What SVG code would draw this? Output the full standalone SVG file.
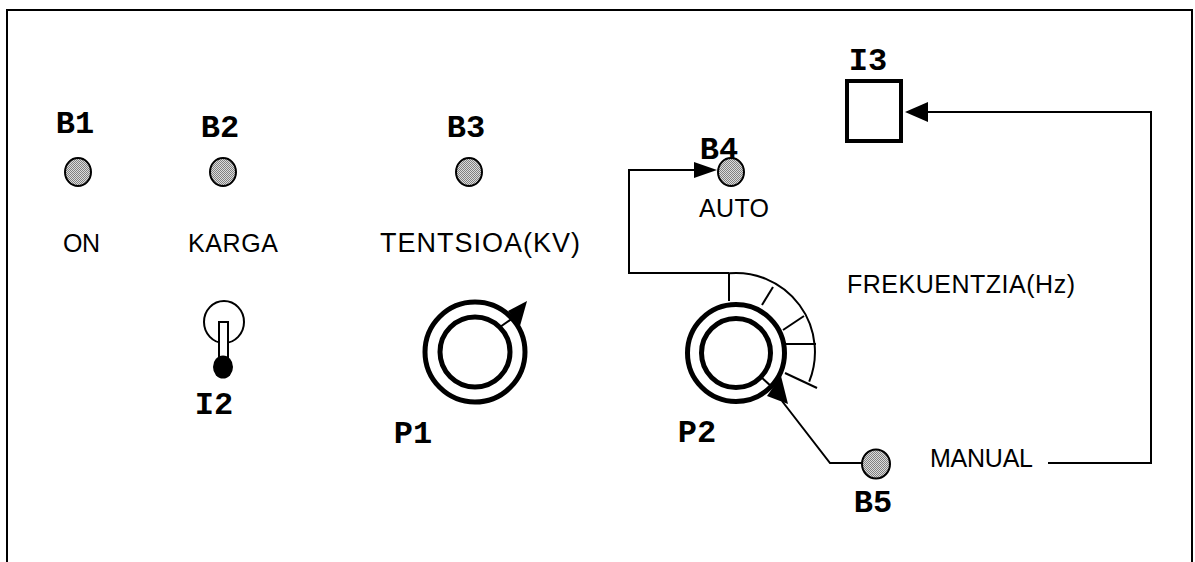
<svg xmlns="http://www.w3.org/2000/svg" width="1195" height="562" viewBox="0 0 1195 562">
<style>
.lbl{font-family:"Liberation Mono","Courier New",monospace;font-weight:bold;font-size:32px;fill:#000;text-anchor:middle}
.txt{font-family:"Liberation Sans",Arial,sans-serif;font-size:25px;fill:#000;text-anchor:middle}
.led{fill:url(#stip);stroke:#000;stroke-width:2}
.ln{fill:none;stroke:#000;stroke-width:2}
.thick{fill:none;stroke:#000;stroke-width:5}
.ah{fill:#000;stroke:none}
</style>
<defs>
<pattern id="stip" patternUnits="userSpaceOnUse" width="2" height="2">
<rect width="2" height="2" fill="#dcdcdc"/>
<rect width="1" height="1" fill="#808080"/>
<rect x="1" y="1" width="1" height="1" fill="#808080"/>
</pattern>
</defs>
<rect width="1195" height="562" fill="#fff"/>
<path id="frame" class="ln" d="M7,562 V10 H1192 V562"/>

<g id="B1">
<text class="lbl" x="75" y="133">B1</text>
<ellipse class="led" cx="78" cy="172" rx="13" ry="14"/>
<text class="txt" x="81.5" y="252" textLength="37">ON</text>
</g>
<g id="B2">
<text class="lbl" x="220" y="137">B2</text>
<ellipse class="led" cx="223" cy="172" rx="13" ry="14"/>
<text class="txt" x="233" y="252" textLength="90">KARGA</text>
</g>
<g id="B3">
<text class="lbl" x="466" y="137">B3</text>
<ellipse class="led" cx="469" cy="172" rx="13" ry="14"/>
<text class="txt" x="480" y="252" style="font-size:27px" textLength="200">TENTSIOA(KV)</text>
</g>
<g id="B4">
<text class="lbl" x="719" y="159">B4</text>
<ellipse class="led" cx="731" cy="172" rx="13" ry="14"/>
<text class="txt" x="734" y="217" textLength="70">AUTO</text>
</g>
<g id="B5">
<ellipse class="led" cx="876" cy="464" rx="14" ry="14.5"/>
<text class="lbl" x="873" y="512">B5</text>
</g>
<g id="I2">
<ellipse class="ln" cx="224" cy="322" rx="20" ry="21"/>
<rect x="219" y="322" width="9" height="42" fill="#fff" stroke="#000" stroke-width="2"/>
<ellipse cx="223" cy="367" rx="10" ry="11.5" fill="#000"/>
<text class="lbl" x="214" y="414">I2</text>
</g>
<g id="P1">
<circle class="thick" cx="475" cy="352" r="50"/>
<circle class="thick" cx="475" cy="352" r="35"/>
<line class="ln" x1="500" y1="327" x2="513" y2="318"/>
<polygon class="ah" points="527,301 508,311 520,326"/>
<text class="lbl" x="413" y="443">P1</text>
</g>
<g id="P2">
<circle class="thick" cx="736" cy="353" r="48.5"/>
<circle class="thick" cx="736" cy="353" r="34.5"/>
<path class="ln" d="M729.1,273.3 A79,79 0 0 1 809.2,381.6"/>
<line class="ln" x1="729" y1="273" x2="729" y2="301"/>
<line class="ln" x1="762" y1="305" x2="773" y2="287"/>
<line class="ln" x1="783" y1="330" x2="804" y2="316"/>
<line class="ln" x1="785" y1="344" x2="816" y2="344"/>
<line class="ln" x1="785" y1="373" x2="817" y2="388"/>
<line class="ln" x1="760" y1="376" x2="773" y2="388"/>
<text class="lbl" x="697" y="442">P2</text>
<text class="txt" x="961" y="293" textLength="228">FREKUENTZIA(Hz)</text>
</g>
<g id="I3">
<text class="lbl" x="868" y="70">I3</text>
<rect x="847" y="81" width="54" height="60" fill="#fff" stroke="#000" stroke-width="4"/>
</g>
<g id="MANUAL">
<text class="txt" x="981.5" y="467" textLength="103">MANUAL</text>
</g>

<g id="connectors">
<path class="ln" d="M729,273 H629 V170 H697"/>
<polygon class="ah" points="717,170 694,162 694,178"/>
<path class="ln" d="M862,463 H830 L782,401"/>
<polygon class="ah" points="781,376 767,396 788,404"/>
<path class="ln" d="M1048,463 H1151 V112 H926"/>
<polygon class="ah" points="905,112 928,102 928,122"/>
</g>
</svg>
